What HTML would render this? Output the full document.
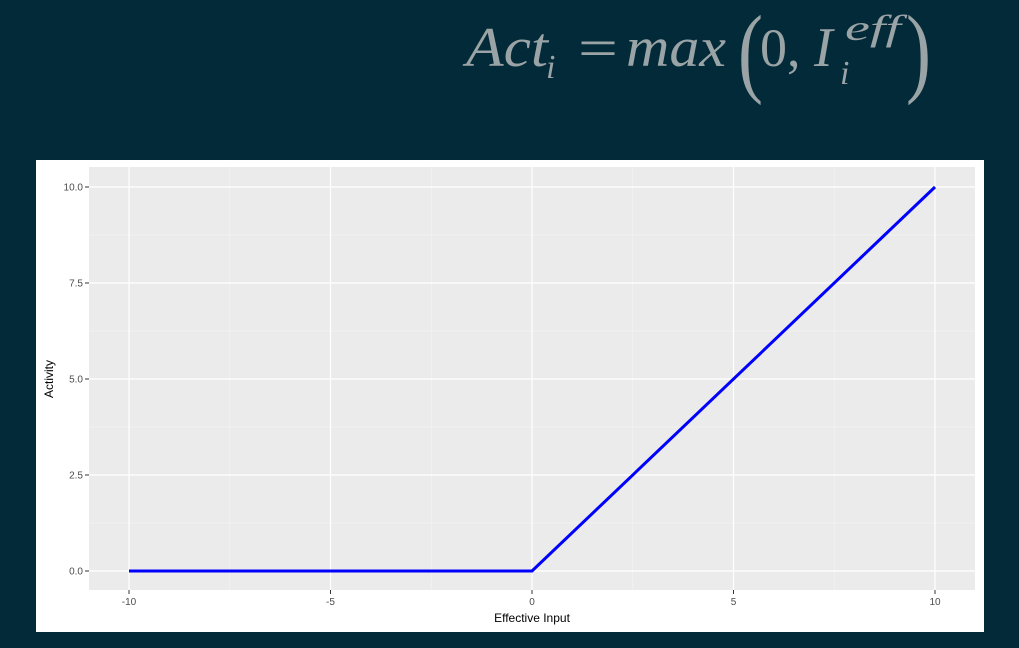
<!DOCTYPE html>
<html><head><meta charset="utf-8"><style>
body{margin:0;width:1019px;height:648px;background:#022a38;overflow:hidden;font-family:"Liberation Sans",sans-serif}
#f{position:absolute;left:0;top:0}
</style></head><body>
<svg id="f" width="1019" height="648">
<g fill="#9aa3a5" font-family="Liberation Serif,serif" font-style="italic">
<text x="466" y="66" font-size="56" textLength="82" lengthAdjust="spacingAndGlyphs">Act</text>
<text x="546" y="78" font-size="34">i</text>
<text x="578" y="66" font-size="54" font-style="normal" textLength="40" lengthAdjust="spacingAndGlyphs">=</text>
<text x="626" y="66" font-size="56" textLength="100" lengthAdjust="spacingAndGlyphs">max</text>
<text x="0" y="84" font-size="100" font-style="normal" transform="translate(738,0) scale(0.75,1)">(</text>
<text x="760" y="66" font-size="54" font-style="normal">0,</text>
<text x="814" y="66" font-size="56">I</text>
<text x="845" y="40" font-size="36" textLength="56" lengthAdjust="spacingAndGlyphs">eff</text>
<text x="840" y="84" font-size="34">i</text>
<text x="0" y="84" font-size="100" font-style="normal" transform="translate(906,0) scale(0.75,1)">)</text>
</g>
<rect x="36" y="160" width="948" height="472" fill="#fff"/>
<rect x="89" y="167" width="886" height="423" fill="#ebebeb"/>
<g id="grid"></g>
<g id="axes" font-size="10" fill="#4d4d4d"></g>
<text x="532" y="622" font-size="12" text-anchor="middle" fill="#000">Effective Input</text>
<text transform="translate(53,379) rotate(-90)" font-size="12" text-anchor="middle" fill="#000">Activity</text>
<polyline id="line" fill="none" stroke="#0000ff" stroke-width="3"/>
</svg>
<script>
const xTicks=[-10,-5,0,5,10];
const yTicks=[0,2.5,5,7.5,10];
const yLabels=["0.0","2.5","5.0","7.5","10.0"];
const xs=[-10,0,10];
const ys=[0,0,10];
const X=v=>129+(v+10)*(935-129)/20, Y=v=>571-v*(571-187)/10;
const ns="http://www.w3.org/2000/svg", g=document.getElementById('grid'), a=document.getElementById('axes');
function L(p,x1,y1,x2,y2,c,w){const l=document.createElementNS(ns,'line');l.setAttribute('x1',x1);l.setAttribute('y1',y1);l.setAttribute('x2',x2);l.setAttribute('y2',y2);l.setAttribute('stroke',c);l.setAttribute('stroke-width',w);p.appendChild(l);return l;}
for(let i=0;i<xTicks.length-1;i++){const m=(xTicks[i]+xTicks[i+1])/2;const l=L(g,X(m),167,X(m),590,'#f5f5f5',0.6);

}
for(let i=0;i<yTicks.length-1;i++){const m=(yTicks[i]+yTicks[i+1])/2;const l=L(g,89,Y(m),975,Y(m),'#f5f5f5',0.6);

}
xTicks.forEach(v=>{const l=L(g,X(v),167,X(v),590,'#fff',1.2);


L(a,X(v),590,X(v),594,'#333',1);
const t=document.createElementNS(ns,'text');t.setAttribute('x',X(v));t.setAttribute('y',605);t.setAttribute('text-anchor','middle');t.textContent=v;


a.appendChild(t);});
yTicks.forEach((v,i)=>{const l=L(g,89,Y(v),975,Y(v),'#fff',1.2);


L(a,85,Y(v),89,Y(v),'#333',1);
const t=document.createElementNS(ns,'text');t.setAttribute('x',83);t.setAttribute('y',Y(v)+3.5);t.setAttribute('text-anchor','end');t.textContent=yLabels[i];


a.appendChild(t);});
document.getElementById('line').setAttribute('points',xs.map((x,i)=>X(x)+','+Y(ys[i])).join(' '));
</script>
</body></html>
